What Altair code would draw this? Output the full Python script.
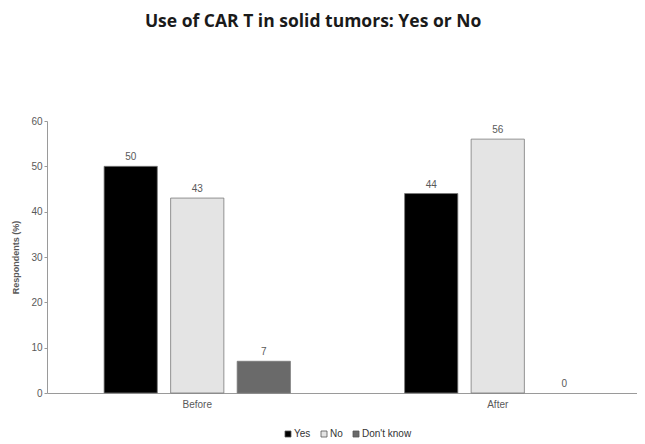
import altair as alt
import pandas as pd

periods = ["Before", "After"]
responses = ["Yes", "No", "Don't know"]
before_vals = [50, 43, 7]
after_vals = [44, 56, 0]
colors = ["#000000", "#e4e4e4", "#6a6a6a"]

rows = []
for p, vals in zip(periods, [before_vals, after_vals]):
    for r, v in zip(responses, vals):
        rows.append({"period": p, "resp": r, "value": v})
df = pd.DataFrame(rows)

font = "Liberation Sans"
gray = "#595959"

x = alt.X("period:N", sort=periods, title=None,
          scale=alt.Scale(paddingInner=0.38, paddingOuter=0.19, range=[0, 601]),
          axis=alt.Axis(labelAngle=0, labelColor=gray, labelFont=font, labelFontSize=10,
                        domainColor="#9a9a9a", ticks=False, labelPadding=6))
xo = alt.XOffset("resp:N", sort=responses, scale=alt.Scale(paddingInner=0.2))

bars = alt.Chart(df).transform_filter("datum.value > 0").mark_bar(
    stroke="#7a7a7a", strokeWidth=0.8).encode(
    x=x,
    xOffset=xo,
    y=alt.Y("value:Q", scale=alt.Scale(domain=[0, 60]),
            axis=alt.Axis(values=[0, 10, 20, 30, 40, 50, 60], grid=False,
                          title="Respondents (%)", titleFont=font, titleFontSize=9,
                          titleColor=gray, titleFontWeight="bold", titlePadding=10,
                          labelColor=gray, labelFont=font, labelFontSize=10,
                          domainColor="#9a9a9a", tickColor="#9a9a9a", tickSize=3)),
    color=alt.Color("resp:N", sort=responses,
                    scale=alt.Scale(domain=responses, range=colors),
                    legend=alt.Legend(title=None, orient="none", direction="horizontal",
                                      legendX=236, legendY=308,
                                      symbolType="square", symbolSize=36,
                                      symbolStrokeColor="#555555", symbolStrokeWidth=0.8,
                                      labelFont=font, labelFontSize=10, labelColor="#333333",
                                      columnPadding=8, labelOffset=1)),
)

labels = alt.Chart(df).mark_text(dy=-9, font=font, fontSize=10, color=gray).encode(
    x=alt.X("period:N", sort=periods),
    xOffset=alt.XOffset("resp:N", sort=responses),
    y="value:Q",
    text="value:Q",
)

chart = (bars + labels).properties(
    width=590, height=272,
    autosize=alt.AutoSizeParams(type="none"),
    padding={"left": 39, "top": 113, "right": 0, "bottom": 47},
    title=alt.Title("Use of CAR T in solid tumors: Yes or No", font="Open Sans",
                    fontSize=17.5, fontWeight="bold", color="#1a1a1a", offset=86,
                    anchor="start", dx=133),
).configure_view(stroke=None)

chart.save("out.html", embed_options={"renderer": "svg", "actions": False})
